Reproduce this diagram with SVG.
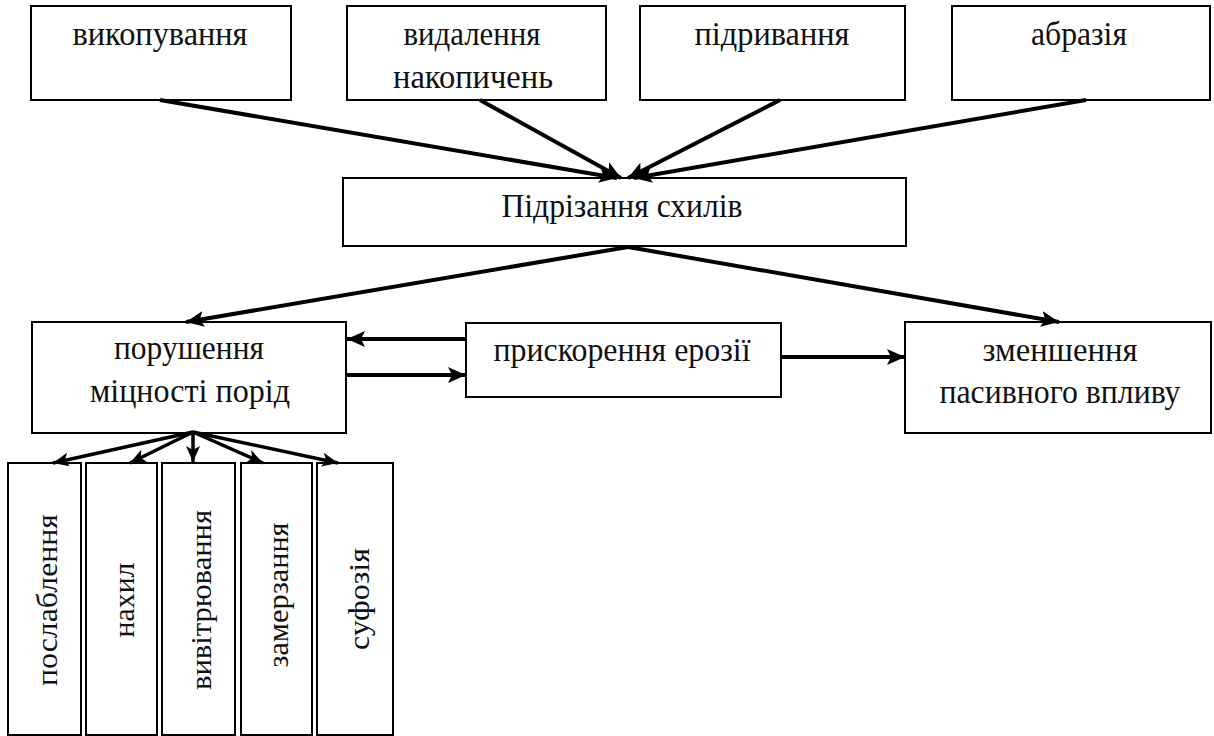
<svg xmlns="http://www.w3.org/2000/svg" width="1214" height="736" viewBox="0 0 1214 736">
<style>
  .box { fill: #ffffff; stroke: #000000; stroke-width: 2; }
  .t { font-family: "Liberation Serif", "DejaVu Serif", serif; font-size: 33px; fill: #111111; text-anchor: middle; }
  .tv { font-family: "Liberation Serif", "DejaVu Serif", serif; font-size: 30px; fill: #111111; text-anchor: middle; }
  .c { stroke: #000000; stroke-width: 4; fill: none; marker-end: url(#ah); }
  .cs { stroke: #000000; stroke-width: 3.5; fill: none; marker-end: url(#ahs); }
</style>
<defs>
  <marker id="ah" markerUnits="userSpaceOnUse" markerWidth="20" markerHeight="16" refX="18" refY="8" orient="auto">
    <path d="M0,0 L18,8 L0,16 L4,8 Z" fill="#000000"/>
  </marker>
  <marker id="ahs" markerUnits="userSpaceOnUse" markerWidth="18" markerHeight="14" refX="16" refY="7" orient="auto">
    <path d="M0,0 L16,7 L0,14 L4,7 Z" fill="#000000"/>
  </marker>
</defs>
<rect width="1214" height="736" fill="#ffffff"/>

<g id="n-vykopuvannia"><rect class="box" x="31" y="6" width="260" height="94"/><text class="t" x="160" y="45" textLength="175" lengthAdjust="spacingAndGlyphs">викопування</text></g>
<g id="n-vydalennia"><rect class="box" x="347" y="6" width="259" height="94"/><text class="t" x="472" y="45" textLength="137" lengthAdjust="spacingAndGlyphs">видалення</text><text class="t" x="473" y="88" textLength="160" lengthAdjust="spacingAndGlyphs">накопичень</text></g>
<g id="n-pidryvannia"><rect class="box" x="640" y="6" width="265" height="94"/><text class="t" x="772" y="45" textLength="155" lengthAdjust="spacingAndGlyphs">підривання</text></g>
<g id="n-abraziia"><rect class="box" x="952" y="6" width="258" height="94"/><text class="t" x="1079" y="45" textLength="96" lengthAdjust="spacingAndGlyphs">абразія</text></g>

<g id="n-pidrizannia"><rect class="box" x="343" y="178" width="563" height="68"/><text class="t" x="622" y="217" textLength="241" lengthAdjust="spacingAndGlyphs">Підрізання схилів</text></g>

<g id="n-porushennia"><rect class="box" x="32" y="322" width="314" height="111"/><text class="t" x="189" y="359" textLength="150" lengthAdjust="spacingAndGlyphs">порушення</text><text class="t" x="190" y="402" textLength="200" lengthAdjust="spacingAndGlyphs">міцності порід</text></g>
<g id="n-pryskorennia"><rect class="box" x="466" y="323" width="315" height="74"/><text class="t" x="622" y="361" textLength="257" lengthAdjust="spacingAndGlyphs">прискорення ерозії</text></g>
<g id="n-zmenshennia"><rect class="box" x="905" y="322" width="306" height="111"/><text class="t" x="1060" y="361" textLength="155" lengthAdjust="spacingAndGlyphs">зменшення</text><text class="t" x="1060" y="403" textLength="241" lengthAdjust="spacingAndGlyphs">пасивного впливу</text></g>

<g id="n-poslablennia"><rect class="box" x="8" y="463" width="73" height="272"/><text class="tv" transform="translate(57,600) rotate(-90)" textLength="172" lengthAdjust="spacingAndGlyphs">послаблення</text></g>
<g id="n-nakhyl"><rect class="box" x="86" y="463" width="71" height="272"/><text class="tv" transform="translate(134,600) rotate(-90)" textLength="75" lengthAdjust="spacingAndGlyphs">нахил</text></g>
<g id="n-vyvitriuvannia"><rect class="box" x="162" y="463" width="73" height="272"/><text class="tv" transform="translate(211,600) rotate(-90)" textLength="180" lengthAdjust="spacingAndGlyphs">вивітрювання</text></g>
<g id="n-zamerzannia"><rect class="box" x="241" y="463" width="71" height="272"/><text class="tv" transform="translate(288,595) rotate(-90)" textLength="145" lengthAdjust="spacingAndGlyphs">замерзання</text></g>
<g id="n-sufoziia"><rect class="box" x="317" y="463" width="76" height="272"/><text class="tv" transform="translate(369,599) rotate(-90)" textLength="102" lengthAdjust="spacingAndGlyphs">суфозія</text></g>

<g id="connectors">
  <line class="c" x1="160" y1="100" x2="617" y2="178"/>
  <line class="c" x1="480" y1="100" x2="621" y2="178"/>
  <line class="c" x1="780" y1="100" x2="628" y2="178"/>
  <line class="c" x1="1086" y1="100" x2="634" y2="178"/>
  <line class="c" x1="628" y1="247" x2="186" y2="322"/>
  <line class="c" x1="628" y1="247" x2="1059" y2="322"/>
  <line class="c" x1="466" y1="339" x2="347" y2="339"/>
  <line class="c" x1="347" y1="375" x2="466" y2="375"/>
  <line class="c" x1="781" y1="357" x2="905" y2="357"/>
  <line class="cs" x1="193" y1="432" x2="53" y2="463"/>
  <line class="cs" x1="193" y1="432" x2="130" y2="463"/>
  <line class="cs" x1="193" y1="432" x2="193" y2="462"/>
  <line class="cs" x1="193" y1="432" x2="263" y2="463"/>
  <line class="cs" x1="193" y1="432" x2="338" y2="463"/>
</g>
</svg>
